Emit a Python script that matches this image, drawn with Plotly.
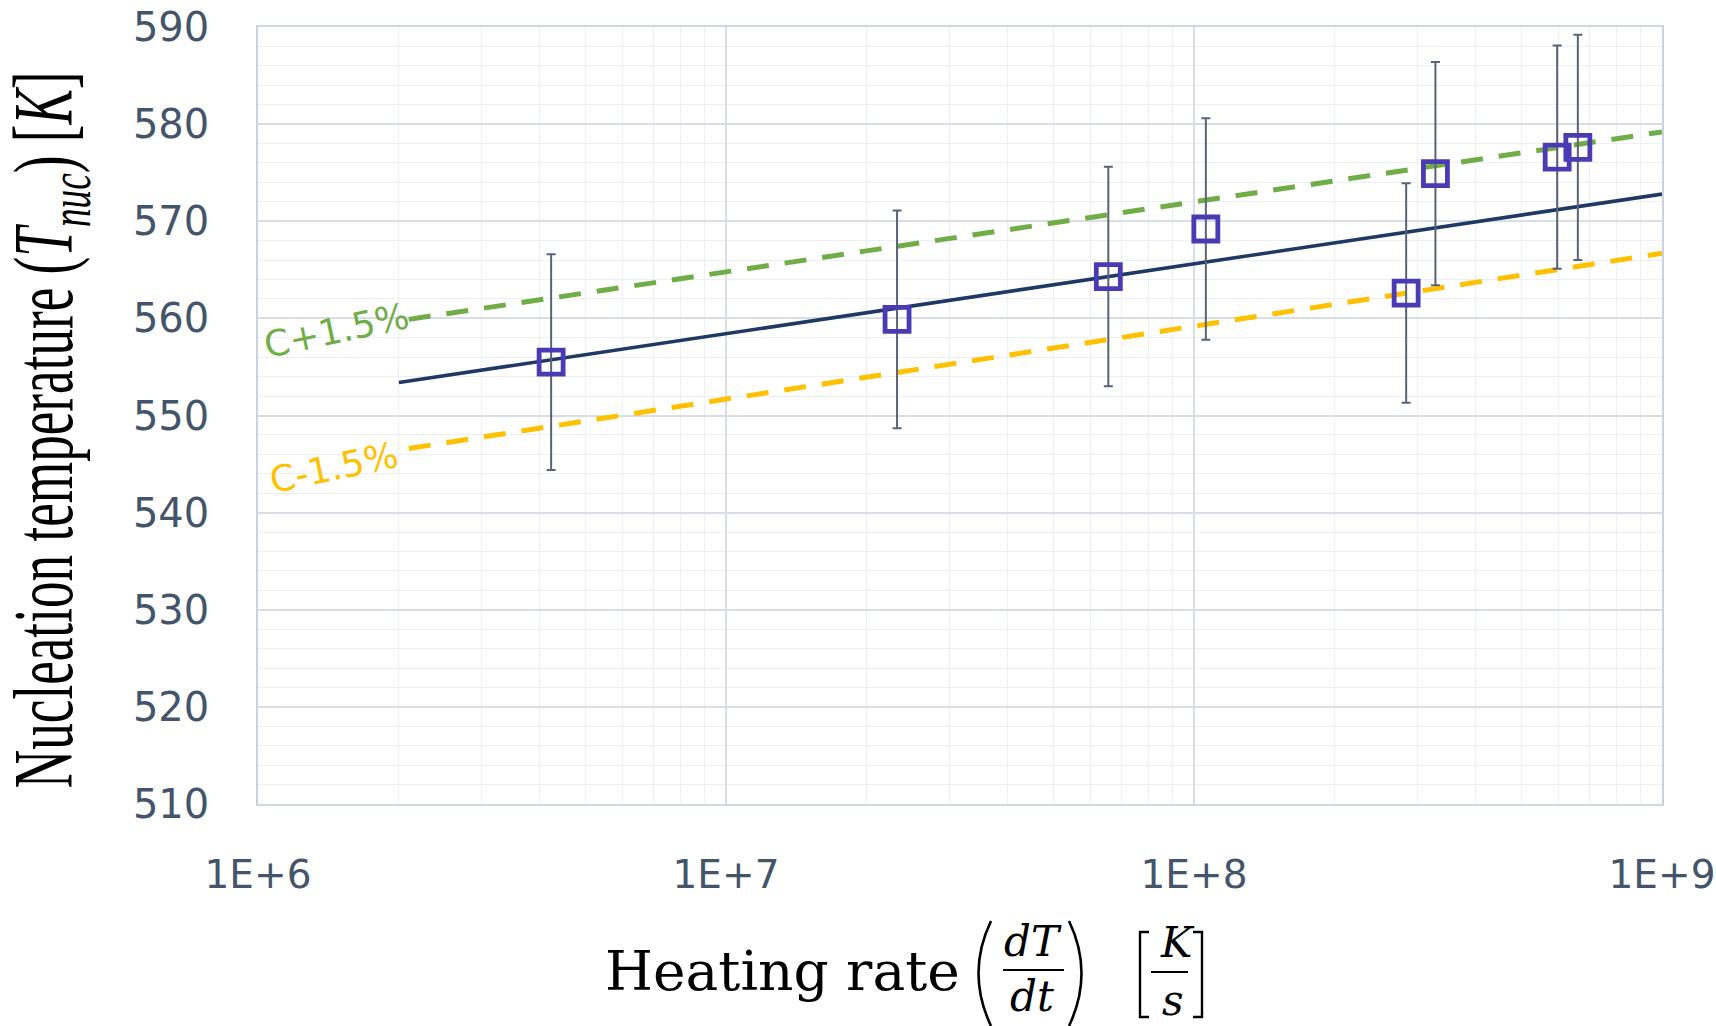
import plotly.graph_objects as go

# ---------------- data ----------------
heating_rate = [4.23e6, 2.32e7, 6.56e7, 1.06e8, 2.84e8, 3.28e8, 5.97e8, 6.61e8]
t_nuc = [555.5, 559.9, 564.3, 569.2, 562.6, 574.9, 576.6, 577.6]
t_err = [11.1, 11.2, 11.3, 11.4, 11.3, 11.5, 11.5, 11.6]

fit_x = [2.0e6, 1.0e9]
fit_y = [553.4, 572.8]
upper_x = [2.1e6, 1.0e9]
upper_y = [559.9, 579.2]
lower_x = [2.1e6, 1.0e9]
lower_y = [546.6, 566.7]

x_tick_vals = [1e6, 1e7, 1e8, 1e9]
x_tick_text = ["1E+6", "1E+7", "1E+8", "1E+9"]
y_tick_vals = [510, 520, 530, 540, 550, 560, 570, 580, 590]

label_upper = "C+1.5%"
label_lower = "C-1.5%"
y_title = "Nucleation temperature (<i>T</i><sub><i>nuc</i></sub>) [<i>K</i>]"
x_title_main = "Heating rate"

# ---------------- layout geometry ----------------
W, H = 1716, 1026
L, R, T, B = 258, 1662, 27, 804
PW, PH = R - L, B - T


def px(x):
    return (x - L) / PW


def py(y):
    return (B - y) / PH


TICK_COLOR = "#44546A"
GREEN = "#70AD47"
ORANGE = "#FFC000"
NAVY = "#203864"
MARK = "#4A3BB4"

fig = go.Figure()

fig.add_trace(go.Scatter(x=upper_x, y=upper_y, mode="lines",
                         line=dict(color=GREEN, width=5, dash="22px,16px"),
                         showlegend=False, hoverinfo="skip"))
fig.add_trace(go.Scatter(x=lower_x, y=lower_y, mode="lines",
                         line=dict(color=ORANGE, width=5, dash="22px,16px"),
                         showlegend=False, hoverinfo="skip"))
fig.add_trace(go.Scatter(x=fit_x, y=fit_y, mode="lines",
                         line=dict(color=NAVY, width=3.6),
                         showlegend=False, hoverinfo="skip"))
fig.add_trace(go.Scatter(
    x=heating_rate, y=t_nuc, mode="markers",
    marker=dict(symbol="square-open", size=24, color=MARK,
                line=dict(color=MARK, width=4.8)),
    error_y=dict(type="data", array=t_err, visible=True,
                 color="#5A6374", thickness=2, width=4.5),
    showlegend=False))

fig.update_xaxes(
    type="log", range=[6, 9], automargin=False,
    tickvals=x_tick_vals, ticktext=x_tick_text,
    tickfont=dict(family="DejaVu Sans", size=39, color=TICK_COLOR),
    ticklabeloverflow="allow",
    showgrid=True, gridcolor="#D9DEE6", gridwidth=1.5,
    minor=dict(showgrid=True, gridcolor="#ECEFF3", gridwidth=1.3,
               tickvals=[k * 10 ** e for e in (6, 7, 8) for k in range(2, 10)]),
    showline=True, linecolor="#D0D7E2", linewidth=1.5, mirror=True,
    ticks="", ticklabelstandoff=35, zeroline=False,
)
fig.update_yaxes(
    range=[510, 590], tickvals=y_tick_vals, automargin=False,
    tickfont=dict(family="DejaVu Sans", size=40, color=TICK_COLOR),
    ticklabeloverflow="allow",
    showgrid=True, gridcolor="#D9DEE6", gridwidth=1.5,
    minor=dict(showgrid=True, gridcolor="#ECEFF3", gridwidth=1.3, dtick=2),
    showline=True, linecolor="#C9D2DF", linewidth=1.5, mirror=True,
    ticks="", ticklabelstandoff=39, zeroline=False,
)

annotations = []
annotations.append(dict(text=label_upper, x=px(336), y=py(330), xref="paper", yref="paper",
                        xanchor="center", yanchor="middle",
                        showarrow=False, textangle=-12,
                        font=dict(family="DejaVu Sans", size=36, color=GREEN)))
annotations.append(dict(text=label_lower, x=px(334), y=py(467), xref="paper", yref="paper",
                        xanchor="center", yanchor="middle",
                        showarrow=False, textangle=-12,
                        font=dict(family="DejaVu Sans", size=36, color=ORANGE)))
# y title
annotations.append(dict(text=y_title, x=px(50), y=py(430), xref="paper", yref="paper",
                        showarrow=False, textangle=-90, xanchor="center", yanchor="middle",
                        font=dict(family="Liberation Serif", size=53, color="#000000")))
# x title pieces
serif = "DejaVu Serif"
annotations.append(dict(text=x_title_main, x=px(782), y=py(971), xref="paper", yref="paper",
                        showarrow=False, xanchor="center", yanchor="middle",
                        font=dict(family=serif, size=55, color="#000000")))
for txt, cx, cy in [("<i>dT</i>", 1033, 941), ("<i>dt</i>", 1032, 996),
                    ("<i>K</i>", 1177, 942), ("<i>s</i>", 1173, 1000)]:
    annotations.append(dict(text=txt, x=px(cx), y=py(cy), xref="paper", yref="paper",
                            showarrow=False, xanchor="center", yanchor="middle",
                            font=dict(family=serif, size=42, color="#000000")))

shapes = []


def path_shape(d, width=2.6):
    return dict(type="path", path=d, xref="paper", yref="paper",
                line=dict(color="#000000", width=width))


def P(x, y):
    return f"{px(x):.5f},{py(y):.5f}"


shapes.append(path_shape(f"M {P(991, 921)} Q {P(966, 973)} {P(991, 1026)}"))
shapes.append(path_shape(f"M {P(1069, 921)} Q {P(1094, 973)} {P(1069, 1026)}"))
shapes.append(path_shape(f"M {P(1149, 932)} L {P(1140, 932)} L {P(1140, 1017)} L {P(1149, 1017)}", 2.4))
shapes.append(path_shape(f"M {P(1193, 932)} L {P(1202, 932)} L {P(1202, 1017)} L {P(1193, 1017)}", 2.4))
shapes.append(dict(type="line", xref="paper", yref="paper", x0=px(1003), x1=px(1064),
                   y0=py(970), y1=py(970), line=dict(color="#000000", width=2)))
shapes.append(dict(type="line", xref="paper", yref="paper", x0=px(1151), x1=px(1188),
                   y0=py(972), y1=py(972), line=dict(color="#000000", width=2)))

fig.update_layout(
    width=W, height=H,
    margin=dict(l=L, r=W - R, t=T, b=H - B, autoexpand=False),
    paper_bgcolor="white", plot_bgcolor="white",
    annotations=annotations, shapes=shapes,
    showlegend=False,
)

# the reference title is drawn in a tall, condensed face: stretch the glyphs
post = """
var gd = document.getElementById('{plot_id}');
function shapeTitle(){
  var texts = gd.querySelectorAll('text.annotation-text');
  texts.forEach(function(t){
    if (t.textContent.indexOf('Nucleation') === 0) {
      t.removeAttribute('transform');
      var bb = t.getBBox();
      var cx = bb.x + bb.width / 2;
      var cy = bb.y + bb.height / 2;
      var sx = 717 / bb.width;
      var sy = 1.6;
      t.setAttribute('transform', 'translate(' + cx + ',' + cy + ') scale(' + sx + ',' + sy + ') translate(' + (-cx) + ',' + (-cy) + ')');
    }
  });
}
shapeTitle();
gd.on('plotly_afterplot', shapeTitle);
"""

fig.write_html("out.html", post_script=post)
